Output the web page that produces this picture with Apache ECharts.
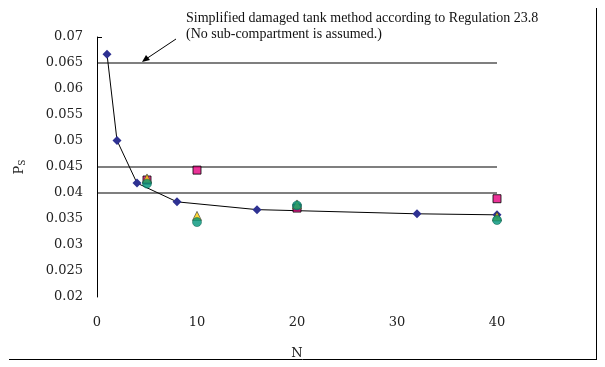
<!DOCTYPE html>
<html><head><meta charset="utf-8">
<script src="https://cdn.jsdelivr.net/npm/echarts@6/dist/echarts.min.js"></script>
<style>html,body{margin:0;padding:0;background:#fff}#c{width:605px;height:367px}</style>
</head><body><div id="c"></div>
<script>
// Data
const diamondN = [1, 2, 4, 8, 16, 32, 40];
const diamondPs = [0.0667, 0.0501, 0.0419, 0.0383, 0.0368, 0.0360, 0.0358];
const squareN = [5, 10, 20, 40];
const squarePs = [0.0425, 0.0444, 0.0371, 0.0389];
const triangleN = [5, 10, 20, 40];
const trianglePs = [0.0428, 0.0356, 0.0378, 0.0355];
const circleN = [5, 10, 20, 40];
const circlePs = [0.0418, 0.0344, 0.0376, 0.0348];
const refLevels = [0.065, 0.045, 0.04];
const refRange = [0, 40];
const xTicks = [0, 10, 20, 30, 40];
const yTickMin = 0.02, yTickMax = 0.07, yTickStep = 0.005;
const noteLines = ['Simplified damaged tank method according to Regulation 23.8', '(No sub-compartment is assumed.)'];

const zip = (a, b) => a.map((v, i) => [v, b[i]]);
const serif = 'DejaVu Serif';
const chart = echarts.init(document.getElementById('c'));
const series = [];
refLevels.forEach(v => series.push({
  type: 'line', data: refRange.map(x => [x, v]), symbol: 'none', silent: true,
  lineStyle: { color: '#000', width: 1.2 }, z: 1
}));
series.push({
  type: 'line', data: zip(diamondN, diamondPs), symbol: 'diamond', symbolSize: 9,
  lineStyle: { color: '#000', width: 1 }, itemStyle: { color: '#2E3192' }, z: 3
});
series.push({
  type: 'scatter', data: zip(squareN, squarePs), symbol: 'rect', symbolSize: 8,
  itemStyle: { color: '#E6007E', borderColor: '#000', borderWidth: 1 }, z: 4
});
series.push({
  type: 'scatter', data: zip(triangleN, trianglePs), symbol: 'triangle', symbolSize: 9,
  itemStyle: { color: '#FFCC00', borderColor: '#333', borderWidth: 0.8 }, z: 5
});
series.push({
  type: 'scatter', data: zip(circleN, circlePs), symbol: 'circle', symbolSize: 9,
  itemStyle: { color: '#00957A', borderColor: '#005a48', borderWidth: 0.6 }, z: 6
});

chart.setOption({
  animation: false,
  grid: { left: 97, right: 108, top: 37, bottom: 70 },
  xAxis: {
    type: 'value', min: xTicks[0], max: xTicks[xTicks.length - 1], interval: 10,
    axisLine: { show: false }, axisTick: { show: false }, splitLine: { show: false },
    axisLabel: { margin: 19, color: '#222', fontFamily: serif, fontSize: 13 },
    name: 'N', nameLocation: 'middle', nameGap: 50,
    nameTextStyle: { color: '#222', fontFamily: serif, fontSize: 13 }
  },
  yAxis: {
    type: 'value', min: yTickMin, max: yTickMax, interval: yTickStep,
    axisLine: { show: true, lineStyle: { color: '#000', width: 1 } },
    axisTick: { show: false }, splitLine: { show: false },
    axisLabel: { margin: 14, color: '#222', fontFamily: serif, fontSize: 13,
      formatter: v => String(+v.toFixed(3)) },
    name: '{p|P}{s|S}', nameLocation: 'middle', nameGap: 70, nameRotate: 90,
    nameTextStyle: { rich: {
      p: { fontFamily: serif, fontSize: 13, color: '#222' },
      s: { fontFamily: serif, fontSize: 9, color: '#222', verticalAlign: 'bottom', padding: [6, 0, 0, 0] }
    } }
  },
  series: series,
  graphic: [
    { type: 'text', left: 186, top: 10, style: { text: noteLines.join('\n'), font: '14px "Liberation Serif"', fill: '#111', lineHeight: 16 } },
    { type: 'line', shape: { x1: 176, y1: 39, x2: 146, y2: 59 }, style: { stroke: '#000', lineWidth: 1 } },
    { type: 'polygon', shape: { points: [[142, 62], [146, 55], [150, 60]] }, style: { fill: '#000' } },
    { type: 'line', shape: { x1: 97, y1: 37.5, x2: 102, y2: 37.5 }, style: { stroke: '#000', lineWidth: 1 } },
    { type: 'line', shape: { x1: 9, y1: 359.5, x2: 596, y2: 359.5 }, style: { stroke: '#000', lineWidth: 1 } },
    { type: 'line', shape: { x1: 596.5, y1: 8, x2: 596.5, y2: 360 }, style: { stroke: '#000', lineWidth: 1 } }
  ]
});
</script></body></html>
